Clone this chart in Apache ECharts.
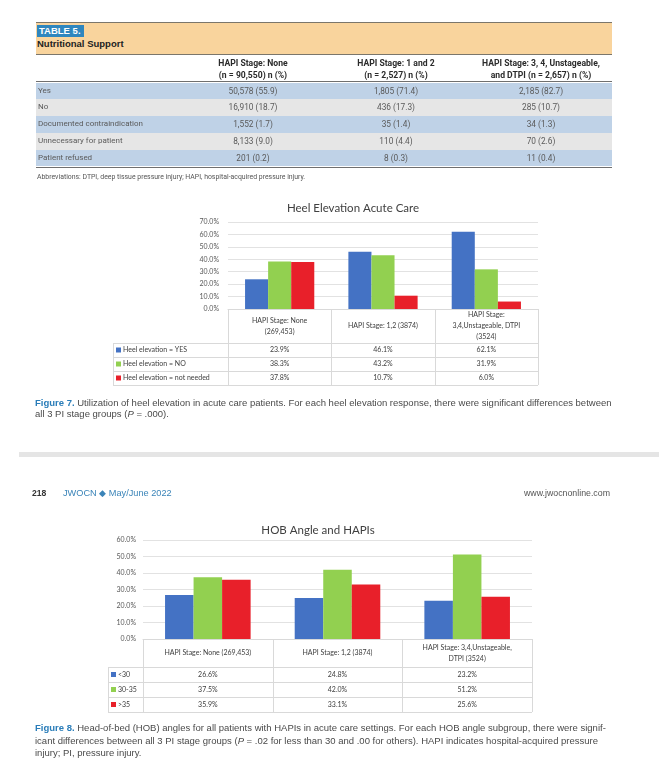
<!DOCTYPE html>
<html><head><meta charset="utf-8">
<script src="https://cdn.jsdelivr.net/npm/echarts@6/dist/echarts.min.js"></script>
<style>
html,body{margin:0;padding:0;background:#fff}
body{width:659px;height:784px;position:relative;overflow:hidden;font-family:"Liberation Sans",Arial,sans-serif}
#chart{position:absolute;left:0;top:0;width:659px;height:784px}
.a{position:absolute;white-space:nowrap}
.narrow{font-family:"Liberation Sans Narrow",Roboto,sans-serif}
.cap{position:absolute;left:35px;font-size:9.5px;color:#4a4a4a;white-space:nowrap}
.cap b{color:#2a7db9;font-weight:bold}
</style></head>
<body>
<div id="chart"></div>
<div id="page"></div>
<script>
// ---------- Table 5 data ----------
const tableTitle = 'Nutritional Support';
const tableHeaders = [['HAPI Stage: None','(n = 90,550) n (%)'],['HAPI Stage: 1 and 2','(n = 2,527) n (%)'],['HAPI Stage: 3, 4, Unstageable,','and DTPI (n = 2,657) n (%)']];
const tableRowLabels = ['Yes','No','Documented contraindication','Unnecessary for patient','Patient refused'];
const tableColNone = ['50,578 (55.9)','16,910 (18.7)','1,552 (1.7)','8,133 (9.0)','201 (0.2)'];
const tableCol12 = ['1,805 (71.4)','436 (17.3)','35 (1.4)','110 (4.4)','8 (0.3)'];
const tableCol34 = ['2,185 (82.7)','285 (10.7)','34 (1.3)','70 (2.6)','11 (0.4)'];
const tableNote = 'Abbreviations: DTPI, deep tissue pressure injury; HAPI, hospital-acquired pressure injury.';

// ---------- Figure 7 data ----------
const heelTitle = 'Heel Elevation Acute Care';
const heelCategories = [['HAPI Stage: None','(269,453)'],['HAPI Stage: 1,2 (3874)'],['HAPI Stage:','3,4,Unstageable, DTPI','(3524)']];
const heelNames = ['Heel elevation = YES','Heel elevation = NO','Heel elevation = not needed'];
const heelYes = [23.9, 46.1, 62.1];
const heelNo = [38.3, 43.2, 31.9];
const heelNotNeeded = [37.8, 10.7, 6.0];
const heelTicks = [0,10,20,30,40,50,60,70];

// ---------- Figure 8 data ----------
const hobTitle = 'HOB Angle and HAPIs';
const hobCategories = [['HAPI Stage: None (269,453)'],['HAPI Stage: 1,2 (3874)'],['HAPI Stage: 3,4,Unstageable,','DTPI (3524)']];
const hobNames = ['<30','30-35','>35'];
const hobLt30 = [26.6, 24.8, 23.2];
const hobMid = [37.5, 42.0, 51.2];
const hobGt35 = [35.9, 33.1, 25.6];
const hobTicks = [0,10,20,30,40,50,60];

const COLORS = ['#4472C4','#92D050','#E8202A'];

// ---------- HTML page parts ----------
const page = document.getElementById('page');
function el(html, style, cls){ const d=document.createElement('div'); d.className='a '+(cls||''); d.innerHTML=html; Object.assign(d.style, style); page.appendChild(d); return d; }

// Table 5
el('', {left:'36px', top:'22px', width:'576px', height:'31px', background:'#F9D49D', borderTop:'1.5px solid #7b766b', borderBottom:'1.5px solid #7b766b'});
el('TABLE 5.', {left:'37px', top:'25px', width:'47px', height:'12px', background:'#2F86BE', color:'#fff', fontWeight:'bold', fontSize:'9.5px', lineHeight:'12px', paddingLeft:'2px', boxSizing:'border-box'});
el(tableTitle, {left:'37px', top:'38px', fontSize:'9.5px', fontWeight:'bold', color:'#222', lineHeight:'12px'});
const colCenters = [253, 396, 541];
tableHeaders.forEach((h,i)=>{
  el(h[0]+'<br>'+h[1], {left:(colCenters[i]-100)+'px', width:'200px', top:'57px', textAlign:'center', fontSize:'8.6px', fontWeight:'bold', lineHeight:'12px', color:'#2b2b2b'}, 'narrow');
});
el('', {left:'36px', top:'81px', width:'576px', height:'0px', borderTop:'1.5px solid #6f6f6f'});
const rowTop = 82.5, rowH = 16.8;
const cols = [tableColNone, tableCol12, tableCol34];
tableRowLabels.forEach((lab,r)=>{
  const y = rowTop + r*rowH;
  el('', {left:'36px', top:y+'px', width:'576px', height:rowH+'px', background: r%2===0 ? '#BFD2E7' : '#E6E6E6'});
  el(lab, {left:'38px', top:y+'px', lineHeight:rowH+'px', fontSize:'8px', color:'#5a5a5a'}, 'narrow');
  cols.forEach((c,i)=>{
    el(c[r], {left:(colCenters[i]-60)+'px', width:'120px', textAlign:'center', top:y+'px', lineHeight:rowH+'px', fontSize:'8.3px', color:'#5a5a5a'}, 'narrow');
  });
});
el('', {left:'36px', top:(rowTop+5*rowH)+'px', width:'576px', height:'0px', borderTop:'1.2px solid #6f6f6f'});
el(tableNote, {left:'37px', top:'172px', fontSize:'6.9px', color:'#555', lineHeight:'10px'}, 'narrow');

// Captions & footer
const c7 = document.createElement('div'); c7.className='cap'; c7.style.top='397px'; c7.style.lineHeight='11px';
c7.innerHTML = '<b>Figure 7.</b> Utilization of heel elevation in acute care patients. For each heel elevation response, there were significant differences between<br>all 3 PI stage groups (<i>P</i> = .000).';
page.appendChild(c7);
el('', {left:'19px', top:'452px', width:'640px', height:'5px', background:'#E5E5E5'});
el('<b style="color:#333">218</b>', {left:'32px', top:'487px', fontSize:'8.6px', lineHeight:'12px'});
el('JWOCN &#9670; May/June 2022', {left:'63px', top:'487px', fontSize:'9.2px', lineHeight:'12px', color:'#3A84B8'});
el('www.jwocnonline.com', {left:'510px', width:'100px', textAlign:'right', top:'487px', fontSize:'8.8px', lineHeight:'12px', color:'#555'});
const c8 = document.createElement('div'); c8.className='cap'; c8.style.top='722px'; c8.style.lineHeight='12.5px';
c8.innerHTML = '<b>Figure 8.</b> Head-of-bed (HOB) angles for all patients with HAPIs in acute care settings. For each HOB angle subgroup, there were signif-<br>icant differences between all 3 PI stage groups (<i>P</i> = .02 for less than 30 and .00 for others). HAPI indicates hospital-acquired pressure<br>injury; PI, pressure injury.';
page.appendChild(c8);

// ---------- ECharts ----------
const FONT = 'Lato, "Open Sans", sans-serif';
const chart = echarts.init(document.getElementById('chart'), null, {renderer:'canvas'});
const catKey = cats => cats.map(c=>c.join(' '));
function bars(names, arrays, idx, gap){
  return names.map((n,i)=>({name:n, type:'bar', xAxisIndex:idx, yAxisIndex:idx, data:arrays[i],
    itemStyle:{color:COLORS[i]}, barGap:'0%', barCategoryGap:gap, silent:true}));
}
function yAxis(idx, ticks, margin){
  return {type:'value', gridIndex:idx, min:ticks[0], max:ticks[ticks.length-1], interval:ticks[1]-ticks[0],
    axisLabel:{formatter:v=>v.toFixed(1)+'%', fontSize:7, color:'#595959', margin:margin, fontFamily:FONT},
    axisLine:{show:false}, axisTick:{show:false}, splitLine:{lineStyle:{color:'#E2E2E2', width:1}}};
}
function xAxis(idx, cats){
  return {type:'category', gridIndex:idx, data:catKey(cats), axisLabel:{show:false}, axisTick:{show:false},
    axisLine:{lineStyle:{color:'#D9D9D9', width:1}}};
}
chart.setOption({
  animation:false,
  textStyle:{fontFamily:FONT},
  grid:[{left:228, top:222, width:310, height:87},{left:143, top:540, width:389, height:99}],
  xAxis:[xAxis(0, heelCategories), xAxis(1, hobCategories)],
  yAxis:[yAxis(0, heelTicks, 9), yAxis(1, hobTicks, 7)],
  series:[...bars(heelNames, [heelYes, heelNo, heelNotNeeded], 0, '33%'),
          ...bars(hobNames, [hobLt30, hobMid, hobGt35], 1, '34%')]
});

// data tables below each chart, positioned from the category axis
const LINE = '#D9D9D9', TXT = '#404040';
function dataTable(idx, cats, names, arrays, legendLeft, headerH, rowH, headLineH){
  const keys = catKey(cats);
  const centers = keys.map(k=>chart.convertToPixel({xAxisIndex:idx}, k));
  const bw = centers[1]-centers[0];
  const top = chart.convertToPixel({yAxisIndex:idx}, 0);
  const right = centers[2]+bw/2, left = centers[0]-bw/2;
  const els = [];
  const ln = (x1,y1,x2,y2)=>els.push({type:'line', silent:true, shape:{x1,y1,x2,y2}, style:{stroke:LINE, lineWidth:1}});
  const bottom = top+headerH+rowH*names.length;
  for(let i=0;i<=3;i++){ const x=Math.round(left+i*bw)+0.5; ln(x, top, x, bottom); }
  ln(legendLeft+0.5, top+headerH, legendLeft+0.5, bottom);
  for(let r=0;r<=names.length;r++){ const y=Math.round(top+headerH+r*rowH)+0.5; ln(legendLeft, y, right, y); }
  cats.forEach((lines,i)=>{
    els.push({type:'text', silent:true, x:centers[i], y:top+headerH/2, style:{text:lines.join('\n'), fill:TXT,
      font:'7px '+FONT, lineHeight:headLineH, align:'center', verticalAlign:'middle', textAlign:'center', textVerticalAlign:'middle'}});
  });
  names.forEach((n,r)=>{
    const yc = top+headerH+r*rowH+rowH/2;
    els.push({type:'rect', silent:true, shape:{x:legendLeft+3, y:yc-2.5, width:5, height:5}, style:{fill:COLORS[r]}});
    els.push({type:'text', silent:true, x:legendLeft+10, y:yc, style:{text:n, fill:TXT, font:'7px '+FONT,
      align:'left', verticalAlign:'middle', textAlign:'left', textVerticalAlign:'middle'}});
    arrays[r].forEach((v,i)=>{
      els.push({type:'text', silent:true, x:centers[i], y:yc, style:{text:v.toFixed(1)+'%', fill:TXT, font:'7px '+FONT,
        align:'center', verticalAlign:'middle', textAlign:'center', textVerticalAlign:'middle'}});
    });
  });
  return els;
}
const g = [
  ...dataTable(0, heelCategories, heelNames, [heelYes, heelNo, heelNotNeeded], 113, 34, 14, 11),
  ...dataTable(1, hobCategories, hobNames, [hobLt30, hobMid, hobGt35], 108, 28, 15, 11),
  {type:'text', silent:true, x:353, y:208, style:{text:heelTitle, fill:'#404040', font:'11.5px '+FONT, align:'center', verticalAlign:'middle', textAlign:'center', textVerticalAlign:'middle'}},
  {type:'text', silent:true, x:318, y:530, style:{text:hobTitle, fill:'#404040', font:'11.5px '+FONT, align:'center', verticalAlign:'middle', textAlign:'center', textVerticalAlign:'middle'}}
];
chart.setOption({graphic:{elements:g}});
</script>
</body></html>
